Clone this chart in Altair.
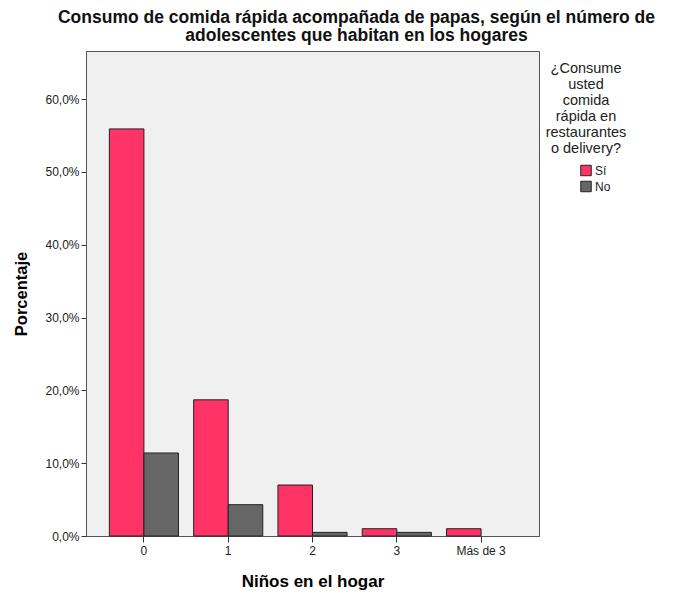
import altair as alt
import pandas as pd

categorias = ["0", "1", "2", "3", "Más de 3"]
series = ["Sí", "No"]
valores_si = [55.9, 18.7, 7.0, 1.0, 1.0]
valores_no = [11.4, 4.3, 0.5, 0.5, 0.0]
ticks_y = [0, 10, 20, 30, 40, 50, 60]
colores = ["#FF3366", "#666666"]

rows = []
for c, s, n in zip(categorias, valores_si, valores_no):
    rows.append({"ninos": c, "consume": "Sí", "pct": s})
    rows.append({"ninos": c, "consume": "No", "pct": n})
df = pd.DataFrame(rows)

FONT = "Liberation Sans"

chart = alt.Chart(df).transform_filter("datum.pct > 0").mark_bar(
    stroke="#222222", strokeWidth=1
).encode(
    x=alt.X("ninos:N", sort=categorias,
            scale=alt.Scale(domain=categorias, paddingInner=0.18, paddingOuter=0.277),
            axis=alt.Axis(title="Niños en el hogar", labelAngle=0, labelFontSize=12,
                          labelFont=FONT, labelColor="#222", titleFont=FONT,
                          titleFontSize=17, titleFontWeight="bold", titlePadding=17,
                          tickSize=6, tickColor="#333", domainColor="#555",
                          labelPadding=3)),
    xOffset=alt.XOffset("consume:N", sort=series, scale=alt.Scale(domain=series)),
    y=alt.Y("pct:Q", scale=alt.Scale(domain=[0, 66.6], nice=False),
            axis=alt.Axis(title="Porcentaje", values=ticks_y, grid=False,
                          labelExpr="replace(format(datum.value, '.1f'), '.', ',') + '%'",
                          labelFontSize=12, labelFont=FONT, labelColor="#222",
                          titleFont=FONT, titleFontSize=16.5, titleFontWeight="bold",
                          titlePadding=15, tickSize=5, tickColor="#333",
                          domainColor="#555", labelPadding=2)),
    color=alt.Color("consume:N", sort=series,
                    scale=alt.Scale(domain=series, range=colores),
                    legend=alt.Legend(
                        title=["¿Consume", "usted", "comida", "rápida en",
                               "restaurantes", "o delivery?"],
                        orient="none", legendX=460, legendY=11,
                        titleFont=FONT, titleFontSize=14.5, titleFontWeight="normal",
                        titleLineHeight=16, titleAlign="center", titleAnchor="middle",
                        titleColor="#222",
                        labelFont=FONT, labelFontSize=12, labelColor="#222",
                        symbolType="square", symbolSize=110,
                        symbolStrokeColor="#222", symbolStrokeWidth=1,
                        symbolOpacity=1, symbolOffset=18, rowPadding=0,
                        labelOffset=3, titlePadding=8)),
).properties(
    width=453,
    height=485,
    padding={"top": 0, "left": 5, "right": 5, "bottom": 5},
    title=alt.TitleParams(
        text=["Consumo de comida rápida acompañada de papas, según el número de",
              "adolescentes que habitan en los hogares"],
        font=FONT, fontSize=17.5, fontWeight="bold", color="#111",
        anchor="middle", frame="group", lineHeight=18, offset=7, dx=44),
).configure_view(
    fill="#F0F0F0", stroke="#555", strokeWidth=1
)

chart.save("out.html", embed_options={"renderer": "svg", "actions": False})
